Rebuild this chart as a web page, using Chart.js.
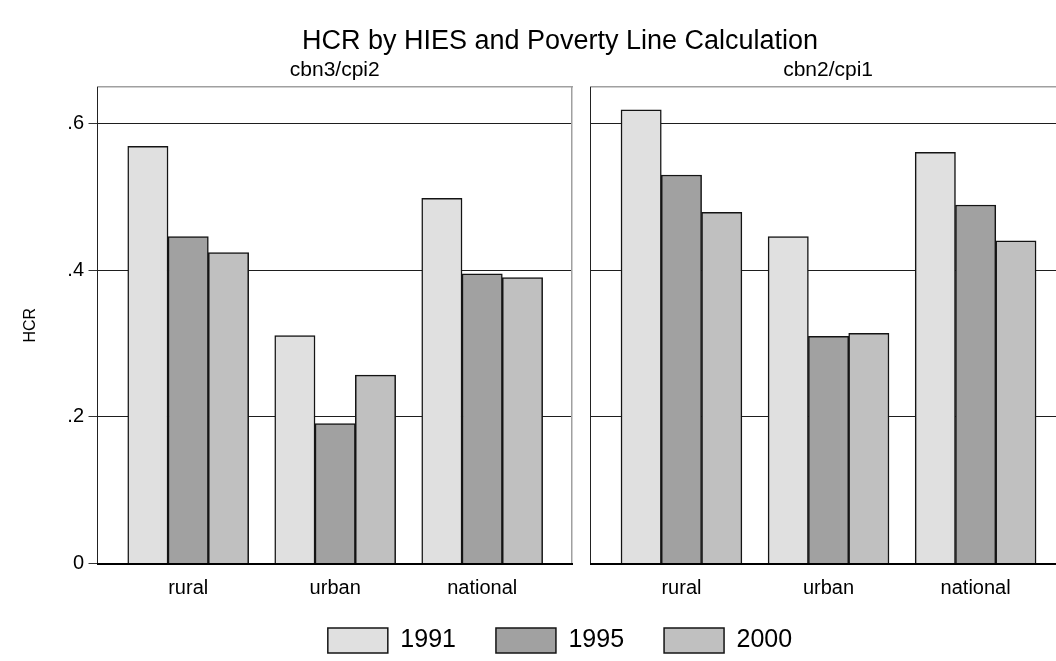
<!DOCTYPE html>
<html>
<head>
<meta charset="utf-8">
<script src="https://cdn.jsdelivr.net/npm/chart.js@4.4.1/dist/chart.umd.min.js"></script>
<style>
  html, body { margin: 0; padding: 0; background: #fff; width: 1056px; height: 661px; overflow: hidden; }
  #wrap { position: relative; width: 1056px; height: 661px; overflow: hidden; background: #fff; }
  #panelA { position: absolute; left: 0; top: 0; width: 1120px; height: 663px; }
  #panelB { position: absolute; left: 575px; top: 0; width: 500px; height: 663px; }
</style>
</head>
<body>
<div id="wrap">
  <canvas id="panelA" width="1120" height="663"></canvas>
  <canvas id="panelB" width="500" height="663"></canvas>
</div>
<script>
// ---- data ----
const categories = ['rural', 'urban', 'national'];
const years = ['1991', '1995', '2000'];
const panelTitles = ['cbn3/cpi2', 'cbn2/cpi1'];

const cbn3cpi2_1991 = [0.569, 0.311, 0.498];
const cbn3cpi2_1995 = [0.446, 0.191, 0.395];
const cbn3cpi2_2000 = [0.424, 0.257, 0.390];

const cbn2cpi1_1991 = [0.619, 0.446, 0.561];
const cbn2cpi1_1995 = [0.530, 0.310, 0.489];
const cbn2cpi1_2000 = [0.479, 0.314, 0.440];

const yTickValues = [0, 0.2, 0.4, 0.6];
const yTickLabels = ['0', '.2', '.4', '.6'];

// ---- styling ----
const FONT = '"Liberation Sans", Arial, Helvetica, sans-serif';
const yearFill = ['#e0e0e0', '#a1a1a1', '#c0c0c0'];
const X_MIN = -0.617, X_MAX = 2.611;   // room around the three groups
const Y_MAX = 0.65;
const TOP_AXIS_H = 30;                 // band holding the panel subtitle
const BOTTOM_AXIS_H = 24.5;            // band above the legend
const BAR_W = 40.3;

Chart.defaults.font.family = FONT;
Chart.defaults.color = '#000';

function toPoints(values) {
  return values.map((v, i) => ({ x: i, y: v }));
}

function makeDatasets(series) {
  return series.map((values, k) => ({
    label: years[k],
    data: toPoints(values),
    backgroundColor: yearFill[k],
    borderColor: '#141414',
    borderWidth: 1.5,
    borderSkipped: 'start',
    barThickness: BAR_W
  }));
}

function categoryAxis() {
  return {
    type: 'linear',
    position: 'bottom',
    offset: false,
    min: X_MIN,
    max: X_MAX,
    afterBuildTicks: (s) => { s.ticks = categories.map((c, i) => ({ value: i })); },
    afterFit: (s) => { s.height = BOTTOM_AXIS_H; },
    grid: { display: false, offset: false },
    border: { display: true, color: '#000', width: 2, z: 1 },
    ticks: {
      autoSkip: false, maxRotation: 0,
      // labels sit below the axis line; mirrored so they are not clipped to the thin axis band
      mirror: true, padding: -37,
      font: { size: 20 }, color: '#000',
      callback: (v) => categories[Math.round(v)]
    }
  };
}

function subtitleAxis(text) {
  return {
    type: 'linear',
    position: 'top',
    offset: false,
    min: X_MIN,
    max: X_MAX,
    afterFit: (s) => { s.height = TOP_AXIS_H; },
    grid: { display: false, offset: false },
    border: { display: true, color: '#a0a0a0', width: 1.5 },
    ticks: { display: false },
    title: { display: true, text: text, font: { size: 21 }, color: '#000', padding: { top: 0.4, bottom: 0 } }
  };
}

function valueAxis(withLabels, width) {
  return {
    type: 'linear',
    position: 'left',
    min: 0,
    max: Y_MAX,
    afterBuildTicks: (s) => { s.ticks = yTickValues.map(v => ({ value: v })); },
    afterFit: (s) => { s.width = width; },
    grid: {
      display: true, color: '#1e1e1e', lineWidth: 1,
      drawTicks: withLabels, tickLength: 9, tickColor: '#333'
    },
    border: { display: true, color: '#222', width: 1 },
    ticks: {
      display: withLabels, padding: 4.5, font: { size: 20 }, color: '#000',
      callback: (v) => yTickLabels[yTickValues.indexOf(v)]
    },
    title: {
      display: withLabels, text: 'HCR', font: { size: 16 }, color: '#000',
      padding: { top: 21.4, bottom: 0 }
    }
  };
}

const common = {
  responsive: false,
  animation: false,
  events: [],
  devicePixelRatio: 1
};

// Left panel, with the figure title and the shared legend
new Chart(document.getElementById('panelA'), {
  type: 'bar',
  data: { datasets: makeDatasets([cbn3cpi2_1991, cbn3cpi2_1995, cbn3cpi2_2000]) },
  options: Object.assign({}, common, {
    layout: { padding: 0 },
    scales: {
      x: categoryAxis(),
      xt: subtitleAxis(panelTitles[0]),
      y: valueAxis(true, 97.5),
      yr: {
        type: 'linear', position: 'right', min: 0, max: 1,
        afterFit: (s) => { s.width = 548; },
        grid: { display: false },
        border: { display: true, color: '#a0a0a0', width: 1.5 },
        ticks: { display: false }
      }
    },
    plugins: {
      tooltip: { enabled: false },
      title: {
        display: true,
        text: 'HCR by HIES and Poverty Line Calculation',
        font: { size: 27, weight: 'normal', lineHeight: 1 },
        color: '#000',
        padding: { top: 28.5, bottom: 1.5 }
      },
      legend: {
        display: true,
        position: 'bottom',
        labels: {
          boxWidth: 60, boxHeight: 25, padding: 40,
          font: { size: 25 }, color: '#000'
        }
      }
    }
  })
});

// Right panel
new Chart(document.getElementById('panelB'), {
  type: 'bar',
  data: { datasets: makeDatasets([cbn2cpi1_1991, cbn2cpi1_1995, cbn2cpi1_2000]) },
  options: Object.assign({}, common, {
    layout: { padding: { top: 57, bottom: 75, left: 0, right: 9.5 } },
    scales: {
      x: categoryAxis(),
      xt: subtitleAxis(panelTitles[1]),
      y: valueAxis(false, 15.7)
    },
    plugins: {
      tooltip: { enabled: false },
      title: { display: false },
      legend: { display: false }
    }
  })
});
</script>
</body>
</html>
